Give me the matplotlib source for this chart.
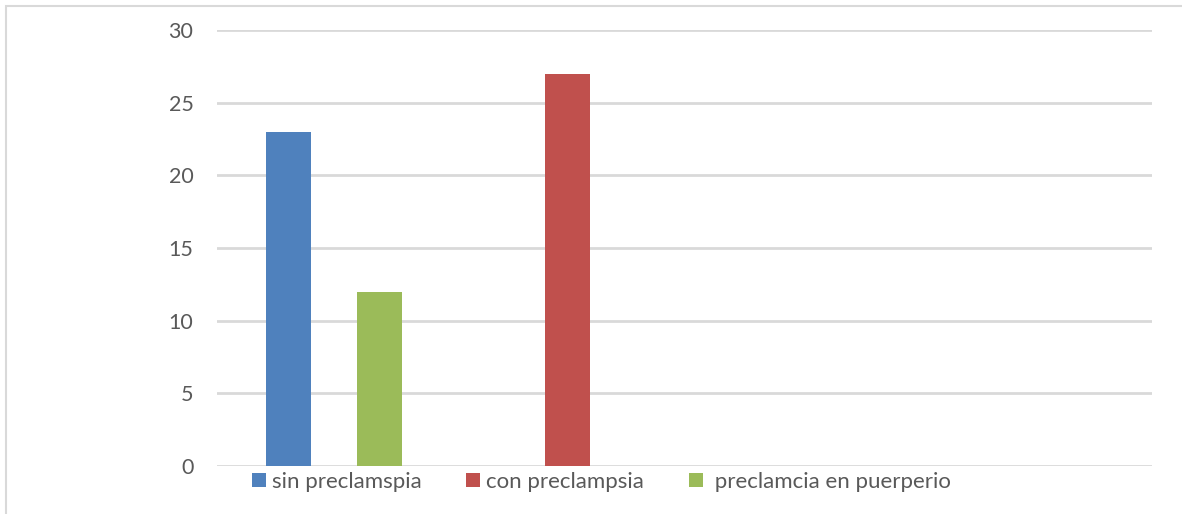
import matplotlib
matplotlib.use("Agg")
import matplotlib.pyplot as plt
from matplotlib.patches import Rectangle
import numpy as np

# Chart data
categories = ["", "", "", ""]
series_names = ["sin preclamspia", "con preclampsia", " preclamcia en puerperio"]
sin_preclampsia = [23, 0, 0, 0]
con_preclampsia = [0, 27, 0, 0]
preclampsia_puerperio = [12, 0, 0, 0]
y_ticks = [0, 5, 10, 15, 20, 25, 30]

colors = ["#4F81BD", "#C0504D", "#9BBB59"]
text_color = "#595959"
grid_color = "#D9D9D9"

W, H, DPI = 1182, 514, 100
fig = plt.figure(figsize=(W / DPI, H / DPI), dpi=DPI)
plt.rcParams["font.family"] = ["Lato", "DejaVu Sans"]

ax = fig.add_axes([217 / W, 1 - 466 / H, (1152 - 217) / W, (466 - 30) / H])

x = np.arange(len(categories))
bar_w = 0.195
offsets = [-bar_w, 0, bar_w]
all_series = [sin_preclampsia, con_preclampsia, preclampsia_puerperio]
for vals, off, col, name in zip(all_series, offsets, colors, series_names):
    ax.bar(x + off, vals, width=bar_w, color=col, label=name, zorder=3)

ax.set_xlim(-0.5, len(categories) - 0.5)
ax.set_ylim(0, 30)
ax.set_yticks(y_ticks)
ax.set_xticks(x)
ax.set_xticklabels(categories)
ax.tick_params(axis="both", length=0, labelsize=15.5, labelcolor=text_color)
ax.tick_params(axis="y", pad=17)
ax.grid(axis="y", color=grid_color, linewidth=2, zorder=0)
for s in ax.spines.values():
    s.set_visible(False)
ax.set_axisbelow(True)

leg = ax.legend(
    loc="center left",
    bbox_to_anchor=(252 / W, 1 - 482 / H),
    bbox_transform=fig.transFigure,
    ncol=3,
    frameon=False,
    fontsize=16,
    handlelength=0.63,
    handleheight=0.63,
    handletextpad=0.27,
    columnspacing=2.0,
    borderpad=0,
    borderaxespad=0,
)
for t in leg.get_texts():
    t.set_color(text_color)

# outer chart frame
fig.patches.append(Rectangle((6 / W, -0.1), 1.2, 1 - 6 / H + 0.1, transform=fig.transFigure,
                             fill=False, edgecolor=grid_color, linewidth=1.5))

fig.savefig("out.png", dpi=DPI)
